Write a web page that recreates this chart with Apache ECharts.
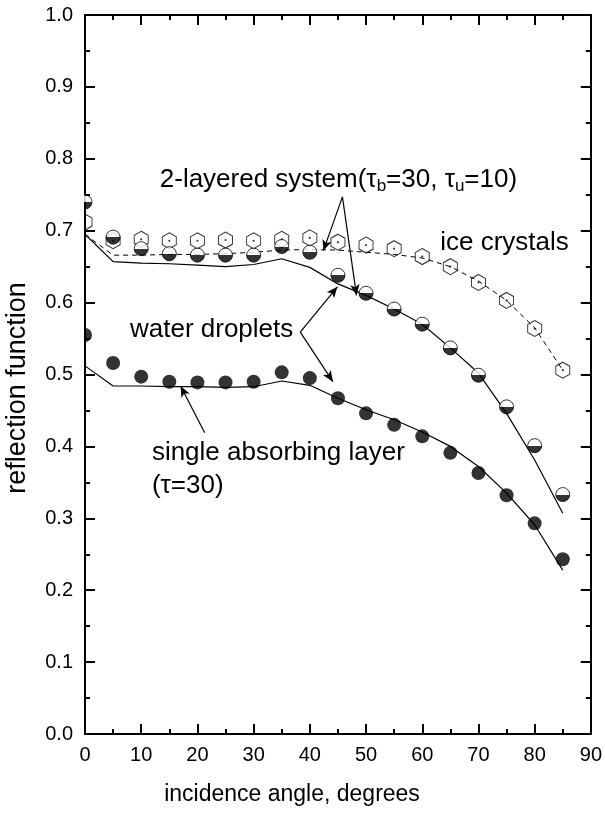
<!DOCTYPE html>
<html>
<head>
<meta charset="utf-8">
<script src="https://cdn.jsdelivr.net/npm/echarts@6/dist/echarts.min.js"></script>
<style>
  html, body { margin: 0; padding: 0; background: #fff; }
  #chart { width: 605px; height: 814px; }
</style>
</head>
<body>
<div id="chart"></div>
<script>
// incidence angles, degrees
const angles = [0, 5, 10, 15, 20, 25, 30, 35, 40, 45, 50, 55, 60, 65, 70, 75, 80, 85];

// ice crystals: measured points and model curve
const iceObs   = [0.712, 0.686, 0.688, 0.686, 0.686, 0.687, 0.686, 0.688, 0.690, 0.684, 0.680, 0.675, 0.664, 0.650, 0.628, 0.603, 0.564, 0.506];
const iceModel = [0.695, 0.666, 0.666, 0.667, 0.667, 0.668, 0.670, 0.673, 0.674, 0.673, 0.670, 0.667, 0.662, 0.650, 0.630, 0.603, 0.565, 0.506];

// water droplets, 2-layered system: points and model curve
const twoLayerObs   = [0.740, 0.691, 0.675, 0.668, 0.666, 0.666, 0.666, 0.678, 0.670, 0.638, 0.613, 0.591, 0.570, 0.537, 0.499, 0.455, 0.401, 0.333];
const twoLayerModel = [0.695, 0.657, 0.655, 0.654, 0.652, 0.650, 0.653, 0.661, 0.649, 0.626, 0.610, 0.591, 0.570, 0.537, 0.502, 0.446, 0.381, 0.307];

// water droplets, single absorbing layer: points and model curve
const singleObs   = [0.555, 0.516, 0.497, 0.490, 0.489, 0.489, 0.490, 0.503, 0.495, 0.467, 0.446, 0.430, 0.414, 0.391, 0.363, 0.332, 0.293, 0.243];
const singleModel = [0.512, 0.484, 0.484, 0.483, 0.483, 0.482, 0.483, 0.491, 0.485, 0.467, 0.451, 0.437, 0.420, 0.400, 0.372, 0.335, 0.291, 0.228];

// axis ticks
const xTicks = [0, 10, 20, 30, 40, 50, 60, 70, 80, 90];
const yTicks = [0.0, 0.1, 0.2, 0.3, 0.4, 0.5, 0.6, 0.7, 0.8, 0.9, 1.0];

const FONT = 'Liberation Sans, Arial, Helvetica, sans-serif';
const pairs = ys => angles.map((a, i) => [a, ys[i]]);

// hexagon (pointy top) with a small centre dot
const HEX = 'path://M0,-1 L0.866,-0.5 L0.866,0.5 L0,1 L-0.866,0.5 L-0.866,-0.5 Z M0,-0.07 A0.07,0.07 0 1 1 0,0.07 A0.07,0.07 0 1 1 0,-0.07 Z';

const chart = echarts.init(document.getElementById('chart'), null, { renderer: 'canvas' });

const fmtX = v => String(Math.round(v));
const fmtY = v => v.toFixed(1);
const lineBlack = { color: '#000', width: 2 };

function axis(pos, lo, hi, step, labels, fmt, margin) {
  return {
    type: 'value', position: pos, min: lo, max: hi, interval: step,
    axisLine: { show: true, onZero: false, lineStyle: lineBlack },
    axisTick: { show: true, inside: true, length: 10, lineStyle: lineBlack },
    minorTick: { show: true, splitNumber: 2, length: 5, lineStyle: lineBlack },
    splitLine: { show: false },
    axisLabel: labels
      ? { show: true, color: '#000', fontFamily: FONT, fontSize: 20, margin: margin, formatter: fmt }
      : { show: false }
  };
}

const option = {
  backgroundColor: '#fff',
  animation: false,
  grid: { left: 85, right: 13, top: 15, bottom: 80, containLabel: false },
  xAxis: [
    axis('bottom', xTicks[0], xTicks[xTicks.length - 1], 10, true, fmtX, 11),
    axis('top', xTicks[0], xTicks[xTicks.length - 1], 10, false)
  ],
  yAxis: [
    axis('left', yTicks[0], yTicks[yTicks.length - 1], 0.1, true, fmtY, 12),
    axis('right', yTicks[0], yTicks[yTicks.length - 1], 0.1, false)
  ],
  series: [
    {
      type: 'line', data: pairs(iceModel), symbol: 'none', z: 2,
      lineStyle: { color: '#000', width: 1, type: [5, 4] }
    },
    {
      type: 'line', data: pairs(twoLayerModel), symbol: 'none', z: 2, clip: false,
      lineStyle: { color: '#000', width: 1.2 }
    },
    {
      type: 'line', data: pairs(singleModel), symbol: 'none', z: 2,
      lineStyle: { color: '#000', width: 1.2 },
      markLine: {
        silent: true,
        symbol: ['none', 'arrow'],
        symbolSize: [7, 11],
        label: { show: false },
        lineStyle: { color: '#000', width: 1.2, type: 'solid' },
        data: [
          [{ coord: [45.8, 0.747] }, { coord: [42.4, 0.672] }],
          [{ coord: [45.8, 0.747] }, { coord: [48.3, 0.610] }],
          [{ coord: [38.3, 0.559] }, { coord: [44.9, 0.622] }],
          [{ coord: [38.3, 0.559] }, { coord: [44.1, 0.490] }],
          [{ coord: [21.3, 0.419] }, { coord: [17.0, 0.484] }]
        ]
      }
    },
    {
      type: 'scatter', data: pairs(iceObs), symbol: HEX, symbolSize: [14, 16], z: 3,
      itemStyle: { color: 'rgba(0,0,0,0)', borderColor: '#000', borderWidth: 1 }
    },
    {
      type: 'scatter', data: pairs(twoLayerObs), symbol: 'circle', symbolSize: 14, z: 4,
      itemStyle: {
        color: { type: 'linear', x: 0, y: 0, x2: 0, y2: 1,
          colorStops: [{ offset: 0, color: '#fff' }, { offset: 0.5, color: '#fff' },
                       { offset: 0.5, color: '#000' }, { offset: 1, color: '#000' }] },
        borderColor: '#000', borderWidth: 1
      }
    },
    {
      type: 'scatter', data: pairs(singleObs), symbol: 'circle', symbolSize: 14, z: 4,
      itemStyle: { color: '#000', borderColor: '#000', borderWidth: 0 }
    }
  ]
};

chart.setOption(option);

const px = (x, y) => chart.convertToPixel({ xAxisIndex: 0, yAxisIndex: 0 }, [x, y]);
const fromPx = (x, y) => chart.convertFromPixel({ xAxisIndex: 0, yAxisIndex: 0 }, [x, y]);

// inward frame ticks on all four sides (major at tick values, minor halfway)
const xLo = xTicks[0], xHi = xTicks[xTicks.length - 1];
const yLo = yTicks[0], yHi = yTicks[yTicks.length - 1];
const o = px(xLo, yLo);
const per = fromPx(o[0] + 1, o[1] - 1);
const dxPerPx = per[0] - xLo, dyPerPx = per[1] - yLo;
const tickSegs = [];
const seg = (a, b) => tickSegs.push([{ coord: a }, { coord: b }]);
xTicks.forEach((t, i) => {
  const marks = [[t, 10]];
  if (i < xTicks.length - 1) marks.push([(t + xTicks[i + 1]) / 2, 5]);
  marks.forEach(([v, len]) => {
    seg([v, yLo], [v, yLo + len * dyPerPx]);
    seg([v, yHi], [v, yHi - len * dyPerPx]);
  });
});
yTicks.forEach((t, i) => {
  const marks = [[t, 10]];
  if (i < yTicks.length - 1) marks.push([(t + yTicks[i + 1]) / 2, 5]);
  marks.forEach(([v, len]) => {
    seg([xLo, v], [xLo + len * dxPerPx, v]);
    seg([xHi, v], [xHi - len * dxPerPx, v]);
  });
});

chart.setOption({
  series: [{}, {
    markLine: {
      silent: true, symbol: ['none', 'none'], label: { show: false },
      lineStyle: { color: '#000', width: 2, type: 'solid' },
      emphasis: { disabled: true },
      data: tickSegs
    }
  }]
});

const graphics = [];
// markers at the frame edge are cut off by the plot border
const c0 = px(xLo, yHi), c1 = px(xLo, yLo);
graphics.push({ type: 'rect', z: 50, silent: true,
  shape: { x: c0[0] - 11, y: c0[1], width: 10, height: c1[1] - c0[1] },
  style: { fill: '#fff' } });

// text annotations placed in data coordinates
const annText = [
  { at: [13.3, 0.771], text: '{m|2-layered system(τ}{s|b}{m|=30, τ}{s|u}{m|=10)}' },
  { at: [63.2, 0.683], text: '{m|ice crystals}' },
  { at: [8.0, 0.562], text: '{m|water droplets}' },
  { at: [11.9, 0.391], text: '{m|single absorbing layer}' },
  { at: [11.9, 0.345], text: '{m|(τ=30)}' }
];
const rich = {
  m: { fontFamily: FONT, fontSize: 26, color: '#000', lineHeight: 32 },
  s: { fontFamily: FONT, fontSize: 17, color: '#000', lineHeight: 32, padding: [14, 0, 0, 0] }
};
annText.forEach(a => {
  const p = px(a.at[0], a.at[1]);
  graphics.push({
    type: 'text', x: p[0], y: p[1], z: 70,
    style: { text: a.text, rich: rich, textAlign: 'left', textVerticalAlign: 'middle' }
  });
});
// axis titles
graphics.push({
  type: 'text', x: 292, y: 795, z: 70,
  style: { text: 'incidence angle, degrees', fontFamily: FONT, fontSize: 23, fill: '#000',
           textAlign: 'center', textVerticalAlign: 'middle' }
});
graphics.push({
  type: 'text', x: 18, y: 388, rotation: Math.PI / 2, z: 70,
  style: { text: 'reflection function', fontFamily: FONT, fontSize: 27, fill: '#000',
           textAlign: 'center', textVerticalAlign: 'middle' }
});
chart.setOption({ graphic: graphics });
</script>
</body>
</html>
